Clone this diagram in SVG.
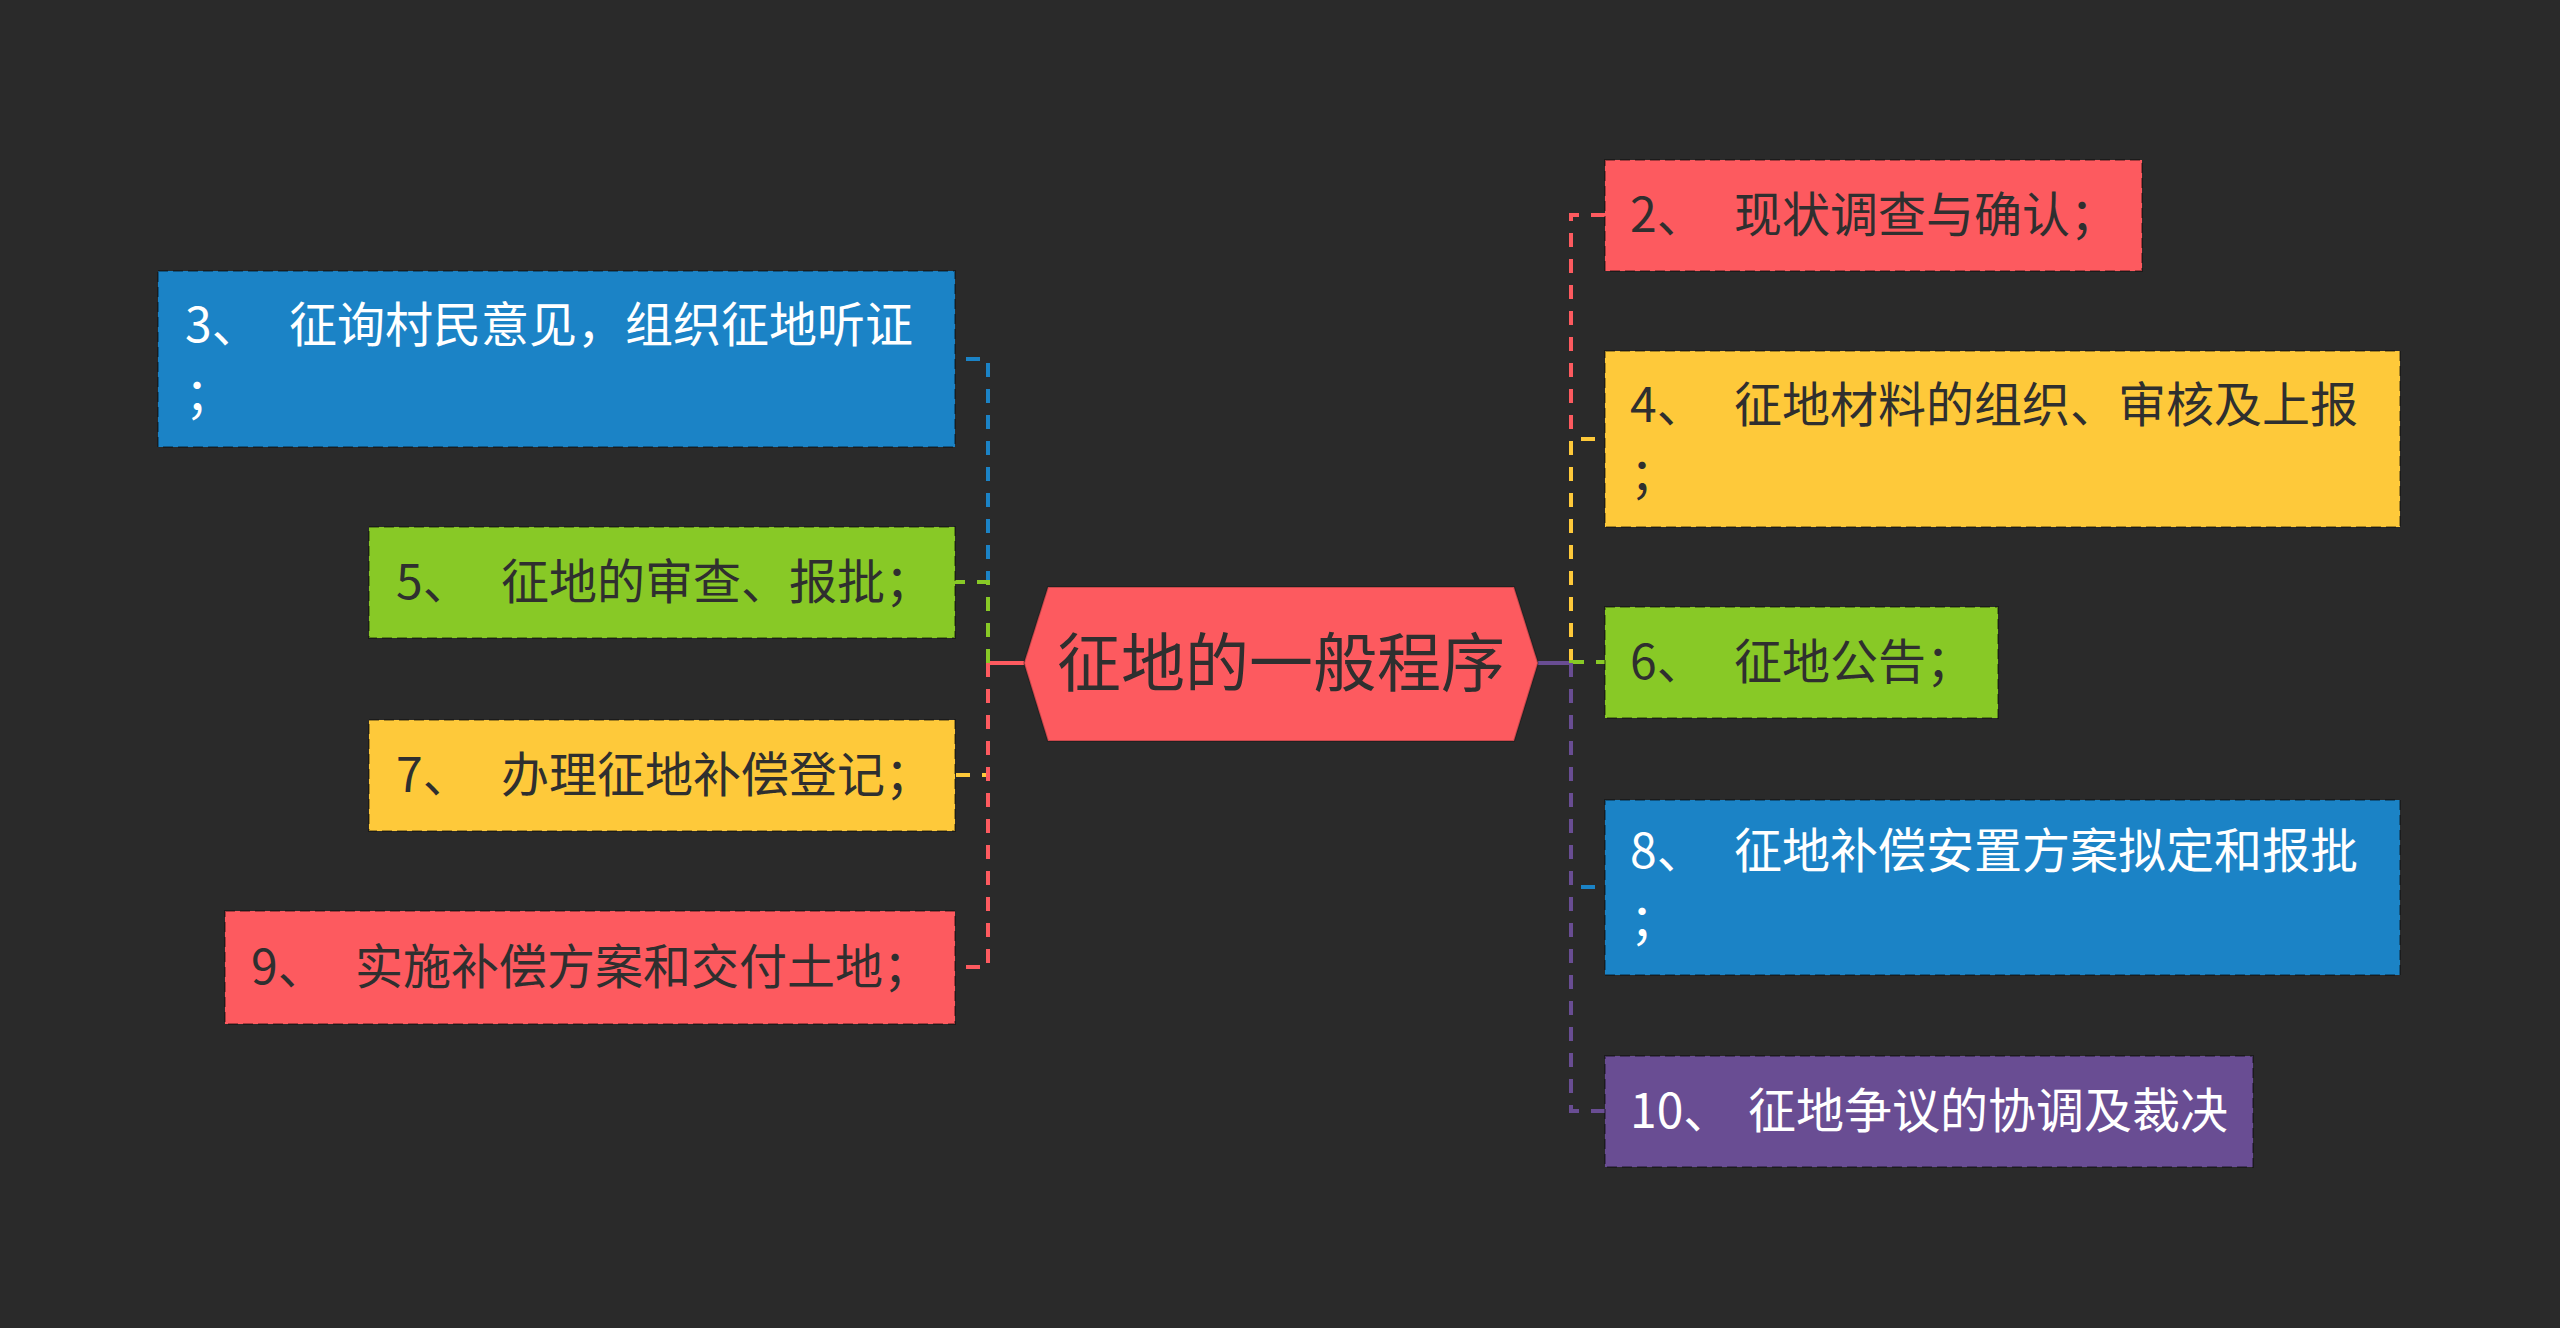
<svg xmlns="http://www.w3.org/2000/svg" width="2560" height="1328" viewBox="0 0 2560 1328">
<style>
.bg{fill:#2a2a2a}
.box{stroke:rgba(0,0,0,0.35);stroke-width:2;stroke-dasharray:10 5}
.red{fill:#fd5a5f}
.blue{fill:#1b83c6}
.green{fill:#88c926}
.yellow{fill:#fec93a}
.purple{fill:#694d93}
.t{font-family:"Noto Sans CJK SC","Noto Sans",sans-serif;font-size:48px}
.dk{fill:#2f2f2f}
.wt{fill:#ffffff}
.c{fill:none;stroke-width:4;stroke-dasharray:14 12}
.s{fill:none;stroke-width:4}
</style>
<rect class="bg" x="0" y="0" width="2560" height="1328"/>
<g id="connectors">
  <path class="s" d="M1024 663H988" stroke="#fd5a5f"/>
  <path class="c" d="M988 663V359H955" stroke="#1b83c6"/>
  <path class="c" d="M988 663V582H955" stroke="#88c926"/>
  <path class="c" d="M988 663V775H955" stroke="#fec93a"/>
  <path class="c" d="M988 663V967H955" stroke="#fd5a5f"/>
  <path class="s" d="M1538 663H1571" stroke="#694d93"/>
  <path class="c" d="M1571 663V215H1605" stroke="#fd5a5f"/>
  <path class="c" d="M1571 663V439H1605" stroke="#fec93a"/>
  <path class="c" d="M1571 663V662H1605" stroke="#88c926"/>
  <path class="c" d="M1571 663V887H1605" stroke="#1b83c6"/>
  <path class="c" d="M1571 663V1111H1605" stroke="#694d93"/>
</g>
<g id="root">
  <polygon points="1024,663 1048,587 1514,587 1538,663 1514,741 1048,741" fill="#fd5a5f" stroke="rgba(0,0,0,0.2)" stroke-width="2"/>
  <text x="1281" y="686" text-anchor="middle" class="t dk" style="font-size:64px">征地的一般程序</text>
</g>
<g id="n3">
  <rect class="box blue" x="158" y="271" width="797" height="176"/>
  <text class="t wt" x="185" y="342">3、<tspan x="289">征询村民意见，组织征地听证</tspan></text>
  <text class="t wt" x="185" y="412">；</text>
</g>
<g id="n5">
  <rect class="box green" x="369" y="527" width="586" height="111"/>
  <text class="t dk" x="396" y="599">5、<tspan x="501">征地的审查、报批；</tspan></text>
</g>
<g id="n7">
  <rect class="box yellow" x="369" y="720" width="586" height="111"/>
  <text class="t dk" x="396" y="792">7、<tspan x="501">办理征地补偿登记；</tspan></text>
</g>
<g id="n9">
  <rect class="box red" x="225" y="911" width="730" height="113"/>
  <text class="t dk" x="251" y="984">9、<tspan x="355">实施补偿方案和交付土地；</tspan></text>
</g>
<g id="n2">
  <rect class="box red" x="1605" y="160" width="537" height="111"/>
  <text class="t dk" x="1630" y="232">2、<tspan x="1734">现状调查与确认；</tspan></text>
</g>
<g id="n4">
  <rect class="box yellow" x="1605" y="351" width="795" height="176"/>
  <text class="t dk" x="1630" y="422">4、<tspan x="1734">征地材料的组织、审核及上报</tspan></text>
  <text class="t dk" x="1630" y="492">；</text>
</g>
<g id="n6">
  <rect class="box green" x="1605" y="607" width="393" height="111"/>
  <text class="t dk" x="1630" y="679">6、<tspan x="1734">征地公告；</tspan></text>
</g>
<g id="n8">
  <rect class="box blue" x="1605" y="800" width="795" height="175"/>
  <text class="t wt" x="1630" y="868">8、<tspan x="1734">征地补偿安置方案拟定和报批</tspan></text>
  <text class="t wt" x="1630" y="938">；</text>
</g>
<g id="n10">
  <rect class="box purple" x="1605" y="1056" width="648" height="111"/>
  <text class="t wt" x="1630" y="1128">10、<tspan x="1748">征地争议的协调及裁决</tspan></text>
</g>
</svg>
